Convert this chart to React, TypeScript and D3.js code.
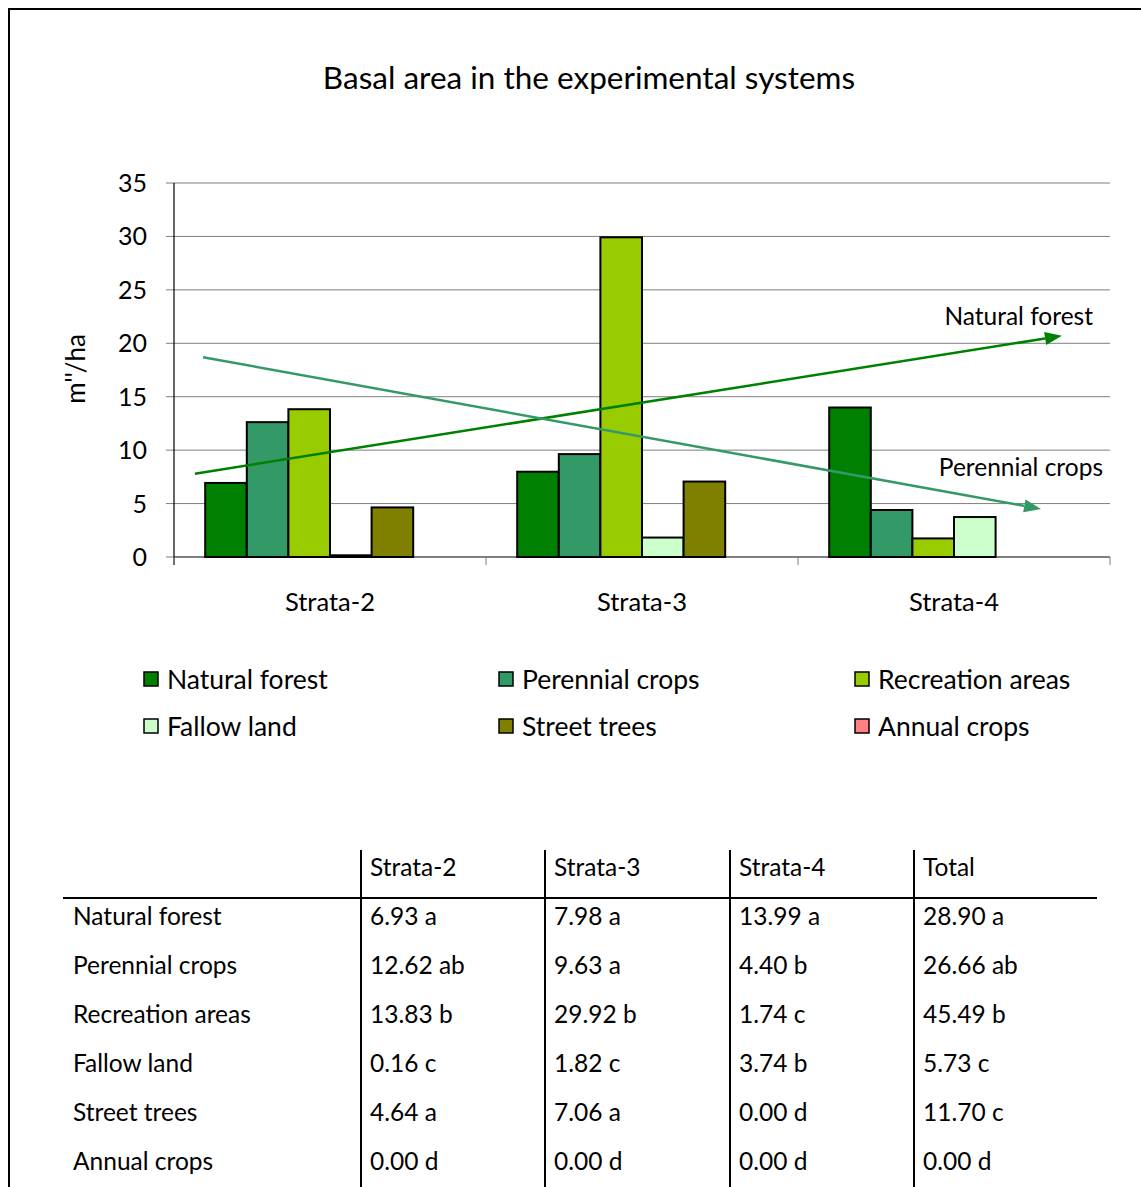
import React from "react";
import * as d3 from "d3";

const categories = ["Strata-2", "Strata-3", "Strata-4"];
const seriesNames = ["Natural forest", "Perennial crops", "Recreation areas", "Fallow land", "Street trees", "Annual crops"];
const seriesColors = ["#008000", "#339966", "#99CC00", "#CCFFCC", "#808000", "#FF8080"];
const naturalForest = [6.93, 7.98, 13.99];
const perennialCrops = [12.62, 9.63, 4.40];
const recreationAreas = [13.83, 29.92, 1.74];
const fallowLand = [0.16, 1.82, 3.74];
const streetTrees = [4.64, 7.06, 0.0];
const annualCrops = [0.0, 0.0, 0.0];
const seriesValues = [naturalForest, perennialCrops, recreationAreas, fallowLand, streetTrees, annualCrops];
const yTicks = [0, 5, 10, 15, 20, 25, 30, 35];

// trend arrows: position along category axis (0..3) and value
const trendNames = ["Natural forest", "Perennial crops"];
const trendColors = ["#008000", "#339966"];
const trendStartPos = [0.067, 0.093];
const trendEndPos = [2.846, 2.779];
const trendStartVal = [7.8, 18.7];
const trendEndVal = [20.7, 4.5];

const tableHeader = ["", "Strata-2", "Strata-3", "Strata-4", "Total"];
const tableRows = [
  ["Natural forest", "6.93 a", "7.98 a", "13.99 a", "28.90 a"],
  ["Perennial crops", "12.62 ab", "9.63 a", "4.40 b", "26.66 ab"],
  ["Recreation areas", "13.83 b", "29.92 b", "1.74 c", "45.49 b"],
  ["Fallow land", "0.16 c", "1.82 c", "3.74 b", "5.73 c"],
  ["Street trees", "4.64 a", "7.06 a", "0.00 d", "11.70 c"],
  ["Annual crops", "0.00 d", "0.00 d", "0.00 d", "0.00 d"],
];

const FONT = "Lato, 'Open Sans', sans-serif";

export default function App() {
  const W = 1141, H = 1187;
  const left = 174, right = 1110, top = 183, bottom = 557;
  const x = d3.scaleBand<string>().domain(categories).range([left, right]).paddingInner(0).paddingOuter(0);
  const bw = x.bandwidth();
  const barW = bw / (seriesNames.length + 1.5);
  const pad = barW * 0.75;
  const y = d3.scaleLinear().domain([0, 35]).range([bottom, top]);
  const pos = d3.scaleLinear().domain([0, 3]).range([left, right]);

  // table
  const colX = [63, 361, 545, 730, 914];
  const tableRight = 1097;
  const headerY = 867;
  const rowY0 = 916;
  const rowStep = 49;

  const arrow = (i: number) => {
    const x1 = pos(trendStartPos[i]), y1 = y(trendStartVal[i]);
    const x2 = pos(trendEndPos[i]), y2 = y(trendEndVal[i]);
    const ang = Math.atan2(y2 - y1, x2 - x1);
    const L = 17, hw = 6.5;
    const bx = x2 - L * Math.cos(ang), by = y2 - L * Math.sin(ang);
    const px = -Math.sin(ang), py = Math.cos(ang);
    const pts = [[x2, y2], [bx + px * hw, by + py * hw], [bx - px * hw, by - py * hw]];
    return (
      <g key={"tr" + i}>
        <line x1={x1} y1={y1} x2={bx} y2={by} stroke={trendColors[i]} strokeWidth={2.5} />
        <polygon points={pts.map((p) => p.join(",")).join(" ")} fill={trendColors[i]} />
      </g>
    );
  };

  return (
    <svg width={W} height={H} style={{ position: "absolute", left: 0, top: 0, background: "#fff" }} fontFamily={FONT}>
      <rect x={0} y={0} width={W} height={H} fill="#fff" />
      <rect x={9} y={9} width={W + 20} height={H + 20} fill="none" stroke="#000" strokeWidth={2} />
      <text x={589} y={89} textAnchor="middle" fontSize={31.5} fill="#000">Basal area in the experimental systems</text>

      {/* gridlines */}
      {yTicks.map((t) => (
        <g key={"g" + t}>
          {t > 0 && <line x1={left} x2={right} y1={y(t)} y2={y(t)} stroke="#7f7f7f" strokeWidth={1} />}
          <line x1={left - 8} x2={left} y1={y(t)} y2={y(t)} stroke="#7f7f7f" strokeWidth={1} />
          <text x={147} y={y(t) + 9} textAnchor="end" fontSize={25} fill="#000">{t}</text>
        </g>
      ))}
      <text transform={`translate(85,${369}) rotate(-90)`} textAnchor="middle" fontSize={26} fill="#000">m''/ha</text>

      {/* bars */}
      {categories.map((c, ci) =>
        seriesValues.map((vals, si) => {
          const bx = (x(c) as number) + pad + si * barW;
          const v = vals[ci];
          return (
            <rect key={c + si} x={bx} y={y(v)} width={barW} height={bottom - y(v)} fill={seriesColors[si]} stroke="#000" strokeWidth={2} />
          );
        })
      )}

      {/* axes */}
      <line x1={left} x2={right} y1={bottom} y2={bottom} stroke="#000" strokeWidth={1.2} />
      <line x1={left} x2={left} y1={top} y2={bottom + 8} stroke="#000" strokeWidth={1.2} />
      {[0, 1, 2, 3].map((i) => (
        <line key={"xt" + i} x1={pos(i)} x2={pos(i)} y1={bottom} y2={bottom + 8} stroke="#7f7f7f" strokeWidth={1} />
      ))}
      {categories.map((c) => (
        <text key={"xl" + c} x={(x(c) as number) + bw / 2} y={611} textAnchor="middle" fontSize={25.5} fill="#000">{c}</text>
      ))}

      {/* trend arrows */}
      {trendNames.map((_, i) => arrow(i))}
      <text x={1093} y={325} textAnchor="end" fontSize={24.5} fill="#000">{trendNames[0]}</text>
      <text x={1103} y={476} textAnchor="end" fontSize={24.5} fill="#000">{trendNames[1]}</text>

      {/* legend */}
      {seriesNames.map((n, i) => {
        const col = i % 3, row = Math.floor(i / 3);
        const lx = [144, 499, 855][col];
        const ly = [680, 727][row];
        return (
          <g key={"lg" + i}>
            <rect x={lx} y={ly - 8} width={14} height={14} fill={seriesColors[i]} stroke="#000" strokeWidth={1.5} />
            <text x={lx + 23} y={ly + 9} fontSize={26.5} fill="#000">{n}</text>
          </g>
        );
      })}

      {/* table */}
      <line x1={colX[0]} x2={tableRight} y1={898} y2={898} stroke="#000" strokeWidth={2} />
      {colX.slice(1).map((cx, i) => (
        <line key={"vl" + i} x1={cx} x2={cx} y1={850} y2={H + 5} stroke="#000" strokeWidth={2} />
      ))}
      {tableHeader.map((h, i) =>
        i > 0 ? (
          <text key={"th" + i} x={colX[i] + 9} y={headerY + 8.5} fontSize={24.5} fill="#000">{h}</text>
        ) : null
      )}
      {tableRows.map((r, ri) =>
        r.map((cell, ci) => (
          <text key={"td" + ri + "-" + ci} x={ci === 0 ? 73 : colX[ci] + 9} y={rowY0 + ri * rowStep + 8.5} fontSize={24.5} fill="#000">{cell}</text>
        ))
      )}
    </svg>
  );
}
